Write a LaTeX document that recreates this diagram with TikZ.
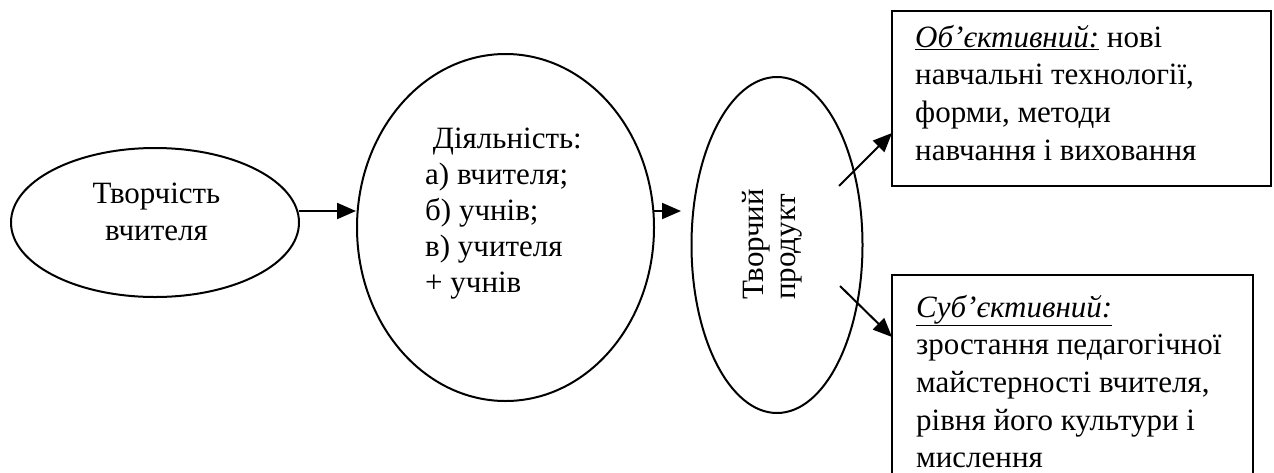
\documentclass[tikz,border=0pt]{standalone}
\usepackage{fontspec}
\setmainfont{Liberation Serif}
\usetikzlibrary{shapes.geometric,arrows.meta}
\tikzset{
  ell/.style={draw, ellipse, line width=2pt, inner sep=0pt},
  boxnode/.style={draw, line width=2pt},
  arr/.style={line width=2pt, -{Triangle[length=19pt,width=16pt]}},
  txt/.style={inner sep=0pt, font=\fontsize{31}{37.7}\selectfont},
}
\begin{document}
\begin{tikzpicture}[x=1pt,y=-1pt]
\useasboundingbox (0,0) rectangle (1274,472);
\clip (0,0) rectangle (1274,472);
% ellipses
\node[ell, minimum width=288pt, minimum height=149pt] (e1) at (155,222.5) {};
\node[ell, minimum width=297pt, minimum height=347pt] (e2) at (505.5,227.5) {};
\node[ell, minimum width=171pt, minimum height=336pt] (e3) at (777,245) {};
% boxes
\draw[boxnode] (892,11) rectangle (1271,186);
\node[inner sep=0pt, minimum width=379pt, minimum height=175pt] (b1) at (1081.5,98.5) {};
\draw[boxnode] (892,275) rectangle (1253,490);
\node[inner sep=0pt, minimum width=361pt, minimum height=215pt] (b2) at (1072.5,382.5) {};
% texts
\node[txt, anchor=base] (t1) at (156.5,203) {\begin{tabular}[t]{@{}c@{}}Творчість\\вчителя\end{tabular}};
\node[txt, anchor=base west, font=\fontsize{31}{36}\selectfont] (t2) at (425,148) {\begin{tabular}[t]{@{}l@{}}\ Діяльність:\\а) вчителя;\\б) учнів;\\в) учителя\\+ учнів\end{tabular}};
\node[txt, anchor=base west, rotate=90, font=\fontsize{31}{32}\selectfont] (t3) at (763,300) {\begin{tabular}[t]{@{}l@{}}Творчий\\продукт\end{tabular}};
\node[txt, anchor=base west] (t4) at (915,47) {\begin{tabular}[t]{@{}l@{}}\underline{\textit{Об’єктивний:}} нові\\навчальні технології,\\форми, методи\\навчання і виховання\end{tabular}};
\node[txt, anchor=base west] (t5) at (916,317) {\begin{tabular}[t]{@{}l@{}}\underline{\textit{Суб’єктивний:}}\\зростання педагогічної\\майстерності вчителя,\\рівня його культури і\\мислення\end{tabular}};
% connector ends
\coordinate (a1s) at (299,211);
\coordinate (a1e) at (356,211);
\coordinate (a2s) at (654,211);
\coordinate (a2e) at (681,211);
\coordinate (a3s) at (839,186);
\coordinate (a3e) at (892,133);
\coordinate (a4s) at (840,286);
\coordinate (a4e) at (892,337);
\draw[arr] (a1s) -- (a1e);
\draw[arr] (a2s) -- (a2e);
\draw[arr] (a3s) -- (a3e);
\draw[arr] (a4s) -- (a4e);
\end{tikzpicture}
\end{document}
